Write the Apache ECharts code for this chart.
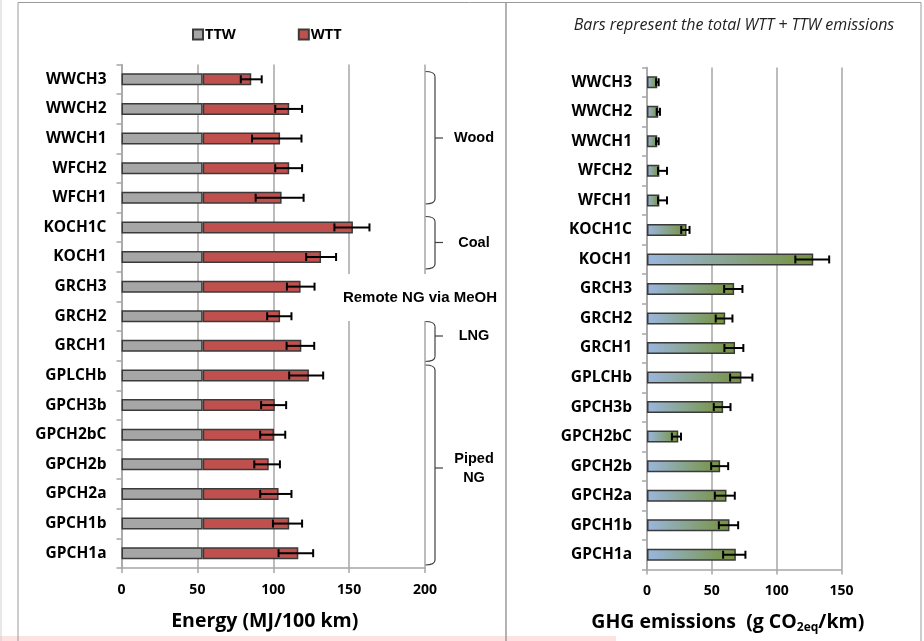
<!DOCTYPE html>
<html><head><meta charset="utf-8">
<script src="https://cdn.jsdelivr.net/npm/echarts@6/dist/echarts.min.js"></script>
<style>html,body{margin:0;padding:0;background:#fff}#c{width:924px;height:641px}</style>
</head><body><div id="c"></div>
<script>
const categories = ['WWCH3','WWCH2','WWCH1','WFCH2','WFCH1','KOCH1C','KOCH1','GRCH3','GRCH2','GRCH1','GPLCHb','GPCH3b','GPCH2bC','GPCH2b','GPCH2a','GPCH1b','GPCH1a'];
// Energy (MJ/100 km)
const ttw = [53.5,53.5,53.5,53.5,53.5,53.5,53.5,53.5,53.5,53.5,53.5,53.5,53.5,53.5,53.5,53.5,53.5];
const wtt = [32,57,51,57,52,99,78,64.5,51,65,70,47.5,47,43.5,50,57,63];
const energyLow  = [78.6,101.3,86,101.3,88.4,140.3,121.7,109,96,108.8,110.5,92,91.4,87.5,91.4,99.8,103.5];
const energyHigh = [92.4,119,118.6,119,120,163.4,141.4,127.2,112,127,132.9,108.5,107.9,104.4,112,119,126.3];
const energyTicks = {min:0, max:200, interval:50};
// GHG emissions (g CO2eq/km), total WTT + TTW
const ghg = [7.9,8.7,7.9,9.5,9.5,30.5,128.2,67.2,60.3,67.9,72.8,58.7,24.1,56.4,61.3,63.6,68.5];
const ghgLow  = [7,7.5,7,8.5,8.5,26.4,114.4,59.5,53,59.7,64.1,51.5,19.2,49.5,52.3,55.4,58.7];
const ghgHigh = [9,10,9,15.4,15.4,32.8,140.5,73.6,65.9,74.3,81.3,64.4,26.2,62.6,67.7,70.3,75.9];
const ghgTicks = {min:0, max:150, interval:50};
const groups = [
  {name:'Wood', y0:71.5, y1:204, ym:138},
  {name:'Coal', y0:216.5, y1:269, ym:242.5},
  {name:'LNG', y0:321.5, y1:361.5, ym:336},
  {name:'Piped\nNG', y0:365, y1:565, ym:468}
];

const chart = echarts.init(document.getElementById('c'), null, {renderer:'canvas'});
const gridCol = '#a6a6a6';
const labelFont = {fontFamily:'Open Sans', fontWeight:'bold', fontSize:14, color:'#000'};
const catFont = {fontFamily:'Open Sans', fontWeight:'bold', fontSize:15.5, color:'#000'};

function errRender(params, api){
  const ci = api.value(2);
  const lo = api.coord([api.value(0), ci]);
  const hi = api.coord([api.value(1), ci]);
  const h = 8, st = {stroke:'#000', lineWidth:2};
  return {type:'group', children:[
    {type:'line', shape:{x1:lo[0],y1:lo[1],x2:hi[0],y2:hi[1]}, style:st},
    {type:'line', shape:{x1:lo[0],y1:lo[1]-h/2,x2:lo[0],y2:lo[1]+h/2}, style:st},
    {type:'line', shape:{x1:hi[0],y1:hi[1]-h/2,x2:hi[0],y2:hi[1]+h/2}, style:st}
  ]};
}

const braceChildren = [];
const bst = {fill:null, stroke:'#404040', lineWidth:1.2};
groups.forEach(g => {
  const x0 = 425, xv = 435, xt = 443;
  braceChildren.push({type:'bezierCurve', shape:{x1:x0,y1:g.y0,cpx1:xv,cpy1:g.y0,x2:xv,y2:g.y0+5}, style:bst});
  braceChildren.push({type:'line', shape:{x1:xv,y1:g.y0+5,x2:xv,y2:g.y1-5}, style:bst});
  braceChildren.push({type:'bezierCurve', shape:{x1:xv,y1:g.y1-5,cpx1:xv,cpy1:g.y1,x2:x0,y2:g.y1}, style:bst});
  braceChildren.push({type:'line', shape:{x1:xv,y1:g.ym,x2:xt,y2:g.ym}, style:bst});
  braceChildren.push({type:'text', x:474, y:g.ym, style:{text:g.name, fontFamily:'Liberation Sans', fontWeight:'bold', fontSize:14.5, fill:'#000', align:'center', verticalAlign:'middle', lineHeight:19}});
});

const option = {
  animation:false,
  backgroundColor:'#fff',
  legend:{data:['TTW','WTT'], left:187, top:22, itemWidth:10, itemHeight:10, itemGap:62, icon:'rect',
    textStyle:{fontFamily:'Open Sans', fontWeight:'bold', fontSize:14.5, color:'#000', padding:[0,0,0,-3]}},
  grid:[
    {left:121.5, top:64.5, width:303.5, height:503.5},
    {left:647, top:67.5, width:194.5, height:502}
  ],
  xAxis:[
    {gridIndex:0, type:'value', min:energyTicks.min, max:energyTicks.max, interval:energyTicks.interval,
     axisLine:{show:true, lineStyle:{color:gridCol, width:1.5}}, axisTick:{show:true, length:5, lineStyle:{color:gridCol,width:1.5}},
     splitLine:{show:true, lineStyle:{color:gridCol, width:1.5}},
     axisLabel:{...labelFont, margin:15},
     name:'Energy (MJ/100 km)', nameLocation:'middle', nameGap:43,
     nameTextStyle:{fontFamily:'Open Sans', fontWeight:'bold', fontSize:19.5, color:'#000', padding:[0,17,0,0]}},
    {gridIndex:1, type:'value', min:ghgTicks.min, max:ghgTicks.max, interval:ghgTicks.interval,
     axisLine:{show:true, lineStyle:{color:gridCol, width:1.5}}, axisTick:{show:true, length:5, lineStyle:{color:gridCol,width:1.5}},
     splitLine:{show:true, lineStyle:{color:gridCol, width:1.5}},
     axisLabel:{...labelFont, margin:15},
     name:'{a|GHG emissions  (g CO}{s|2eq}{a|/km)}', nameLocation:'middle', nameGap:41,
     nameTextStyle:{padding:[0,33,0,0], rich:{a:{fontFamily:'Open Sans', fontWeight:'bold', fontSize:19.5, color:'#000', lineHeight:24},
       s:{fontFamily:'Open Sans', fontWeight:'bold', fontSize:12, color:'#000', lineHeight:24, padding:[10,0,0,0]}}}}
  ],
  yAxis:[
    {gridIndex:0, type:'category', data:categories, inverse:true,
     axisLine:{show:true, lineStyle:{color:gridCol, width:1.5}}, axisTick:{show:true, length:5, lineStyle:{color:gridCol,width:1.5}},
     axisLabel:{...catFont, margin:15}},
    {gridIndex:1, type:'category', data:categories, inverse:true,
     axisLine:{show:true, lineStyle:{color:gridCol, width:1.5}}, axisTick:{show:true, length:5, lineStyle:{color:gridCol,width:1.5}},
     axisLabel:{...catFont, margin:15}}
  ],
  series:[
    {name:'TTW', type:'bar', stack:'e', xAxisIndex:0, yAxisIndex:0, barWidth:12, data:ttw,
     itemStyle:{color:'#a6a6a6', borderColor:'#3a3a3a', borderWidth:1.5}},
    {name:'WTT', type:'bar', stack:'e', xAxisIndex:0, yAxisIndex:0, barWidth:12, data:wtt,
     itemStyle:{color:'#c0504d', borderColor:'#3a3a3a', borderWidth:1.5}},
    {name:'errE', type:'custom', xAxisIndex:0, yAxisIndex:0, renderItem:errRender, z:10,
     encode:{x:[0,1], y:2}, data:categories.map((c,i)=>[energyLow[i], energyHigh[i], i])},
    {name:'GHG', type:'bar', xAxisIndex:1, yAxisIndex:1, barWidth:12, data:ghg,
     itemStyle:{color:new echarts.graphic.LinearGradient(0,0,1,0,[{offset:0,color:'#9ab6df'},{offset:1,color:'#76923c'}]),
       borderColor:'#3a3a3a', borderWidth:1.5}},
    {name:'errG', type:'custom', xAxisIndex:1, yAxisIndex:1, renderItem:errRender, z:10,
     encode:{x:[0,1], y:2}, data:categories.map((c,i)=>[ghgLow[i], ghgHigh[i], i])}
  ],
  graphic:[
    {type:'rect', shape:{x:0, y:636, width:616, height:5}, style:{fill:'#fde2e2'}, z:-1},
    {type:'line', shape:{x1:1,y1:0,x2:1,y2:641}, style:{stroke:'#d0d0d0', lineWidth:1}},
    {type:'line', shape:{x1:18,y1:2.5,x2:18,y2:641}, style:{stroke:'#9a9a9a', lineWidth:1}},
    {type:'line', shape:{x1:18,y1:2.5,x2:921,y2:2.5}, style:{stroke:'#9a9a9a', lineWidth:1}},
    {type:'line', shape:{x1:506,y1:2.5,x2:506,y2:641}, style:{stroke:'#9a9a9a', lineWidth:1.5}},
    {type:'line', shape:{x1:921,y1:2.5,x2:921,y2:641}, style:{stroke:'#9a9a9a', lineWidth:1}},
    {type:'rect', shape:{x:338, y:274, width:165, height:47}, style:{fill:'#fff'}, z:50},
    {type:'text', x:420, y:298, z:51, style:{text:'Remote NG via MeOH', fontFamily:'Liberation Sans', fontWeight:'bold', fontSize:15, fill:'#000', align:'center', verticalAlign:'middle'}},
    {type:'group', z:51, children:braceChildren},
    {type:'text', x:734, y:25, z:51, style:{text:'Bars represent the total WTT + TTW emissions', fontFamily:'Open Sans', fontStyle:'italic', fontSize:16, fill:'#222', align:'center', verticalAlign:'middle'}}
  ]
};
chart.setOption(option);
</script></body></html>
